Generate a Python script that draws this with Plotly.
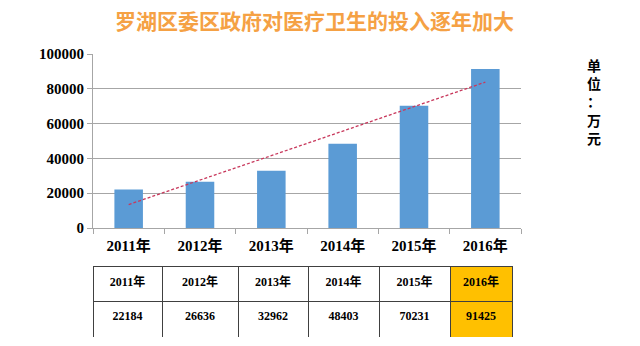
import numpy as np
import plotly.graph_objects as go

years = ["2011年", "2012年", "2013年", "2014年", "2015年", "2016年"]
values = [22184, 26636, 32962, 48403, 70231, 91425]
y_ticks = [0, 20000, 40000, 60000, 80000, 100000]
title_text = "罗湖区委区政府对医疗卫生的投入逐年加大"
unit_chars = ["单", "位", "：", "万", "元"]

W, H = 640, 346
ML, MR, MT, MB = 93, 119, 5, 5
PH = H - MT - MB

def py(p):  # pixel y -> paper y
    return (H - MB - p) / PH

def px(p):
    return (p - ML) / (W - ML - MR)

# linear trend (least squares, like Excel's linear trendline)
xi = np.arange(1, len(values) + 1)
slope, intercept = np.polyfit(xi, values, 1)
trend = slope * xi + intercept

fig = go.Figure()
fig.add_trace(go.Bar(x=years, y=values, marker=dict(color="#5B9BD5", line=dict(width=0)),
                     hoverinfo="skip", showlegend=False))
fig.add_trace(go.Scatter(x=years, y=trend, mode="lines",
                         line=dict(color="#C8385C", width=1.3, dash="3px,2px"),
                         hoverinfo="skip", showlegend=False))

serif = "Liberation Serif, Noto Sans CJK SC"
fill_head = ["white"] * 5 + ["#FFC000"]
fig.add_trace(go.Table(
    domain=dict(x=[px(93), px(512)], y=[py(337), py(266)]),
    columnwidth=[69, 76, 70, 71, 71, 62],
    header=dict(values=[f"<b>{y}</b>" for y in years],
                fill=dict(color=[[c] for c in fill_head]),
                line=dict(color="#404040", width=1),
                font=dict(family=serif, size=12, color="black"),
                align="center", height=35),
    cells=dict(values=[[f"<b>{v}</b>"] for v in values],
               fill=dict(color=[[c] for c in fill_head]),
               line=dict(color="#404040", width=1),
               font=dict(family=serif, size=12, color="black"),
               align="center", height=36),
))

annotations = [dict(text=f"<b>{title_text}</b>", xref="paper", yref="paper",
                    x=px(314), y=py(20), showarrow=False, yanchor="middle",
                    font=dict(family="Noto Sans CJK SC", size=21, color="#F5A144")),
               dict(text="<br>".join(f"<b>{c}</b>" for c in unit_chars),
                    xref="paper", yref="paper", x=px(603), y=py(101),
                    showarrow=False, yanchor="middle",
                    font=dict(family="Noto Sans CJK SC", size=14, color="black"))]

fig.update_layout(
    width=W, height=H, margin=dict(l=ML, r=MR, t=MT, b=MB, autoexpand=False),
    paper_bgcolor="white", plot_bgcolor="white",
    bargap=0.6,
    xaxis=dict(domain=[0, 1], anchor="y", showgrid=False, showline=True, linecolor="#A6A6A6",
               ticks="outside", tickson="boundaries", ticklen=5, tickcolor="#A6A6A6",
               ticklabelstandoff=4,
               tickfont=dict(family=serif, size=15, color="black"),
               tickvals=years, ticktext=[f"<b>{y}</b>" for y in years]),
    yaxis=dict(domain=[py(228), py(54)], range=[0, 100000], anchor="x",
               tickvals=y_ticks, ticktext=[f"<b>{t}</b>" for t in y_ticks],
               showgrid=True, gridcolor="#A6A6A6", gridwidth=1,
               showline=True, linecolor="#A6A6A6", ticks="outside", ticklen=5,
               tickcolor="#A6A6A6", zeroline=False,
               tickfont=dict(family=serif, size=15, color="black")),
    annotations=annotations,
)
fig.write_html("out.html")
